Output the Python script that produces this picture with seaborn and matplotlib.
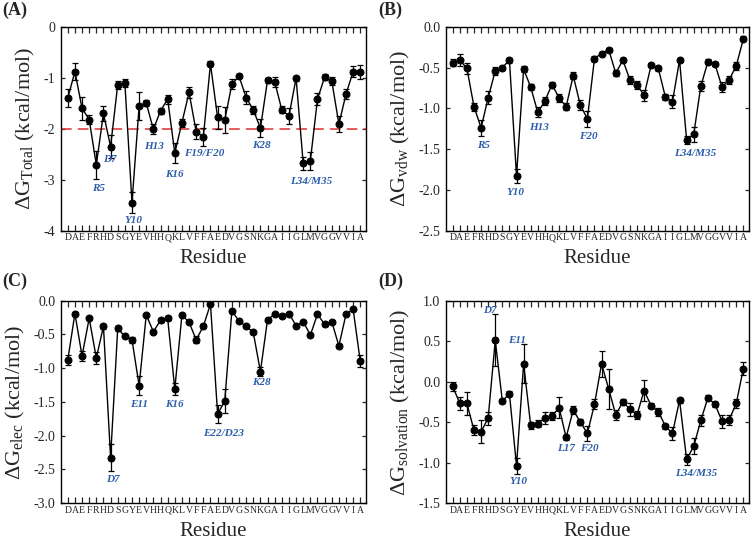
import numpy as np
import pandas as pd
import matplotlib
matplotlib.use("Agg")
import matplotlib.pyplot as plt
import seaborn as sns

sns.set_theme(style="ticks")
plt.rcParams['font.family'] = ['Liberation Serif', 'DejaVu Serif']
plt.rcParams['mathtext.fontset'] = 'custom'
plt.rcParams['mathtext.rm'] = 'Liberation Serif'
plt.rcParams['mathtext.it'] = 'Liberation Serif:italic'
plt.rcParams['axes.unicode_minus'] = False

residues = list("DAEFRHDSGYEVHHQKLVFFAEDVGSNKGAIIGLMVGGVVIA")

dg_total = [-1.40, -0.88, -1.60, -1.82, -2.71, -1.70, -2.35, -1.14, -1.10, -3.45,
            -1.56, -1.50, -2.01, -1.65, -1.42, -2.48, -1.88, -1.29, -2.06, -2.16,
            -0.73, -1.78, -1.83, -1.13, -0.97, -1.39, -1.63, -1.99, -1.05, -1.08,
            -1.63, -1.75, -1.01, -2.68, -2.63, -1.42, -0.99, -1.06, -1.91, -1.32,
            -0.88, -0.89]
err_total = [0.17, 0.16, 0.22, 0.09, 0.28, 0.14, 0.22, 0.08, 0.08, 0.21,
             0.27, 0.06, 0.10, 0.06, 0.09, 0.20, 0.08, 0.10, 0.15, 0.17,
             0.05, 0.23, 0.25, 0.10, 0.04, 0.12, 0.08, 0.18, 0.05, 0.10,
             0.07, 0.15, 0.05, 0.13, 0.18, 0.12, 0.06, 0.08, 0.15, 0.10,
             0.10, 0.14]

dg_vdw = [-0.44, -0.41, -0.51, -0.98, -1.24, -0.87, -0.54, -0.50, -0.41, -1.83,
          -0.52, -0.74, -1.05, -0.91, -0.71, -0.87, -0.98, -0.60, -0.96, -1.13,
          -0.39, -0.33, -0.28, -0.57, -0.41, -0.65, -0.71, -0.84, -0.47, -0.51,
          -0.86, -0.92, -0.41, -1.39, -1.32, -0.73, -0.43, -0.46, -0.74, -0.65,
          -0.48, -0.15]
err_vdw = [0.04, 0.07, 0.07, 0.05, 0.10, 0.08, 0.05, 0.02, 0.03, 0.09,
           0.04, 0.04, 0.06, 0.05, 0.03, 0.05, 0.04, 0.04, 0.06, 0.10,
           0.03, 0.02, 0.02, 0.04, 0.02, 0.05, 0.05, 0.07, 0.02, 0.03,
           0.04, 0.08, 0.02, 0.05, 0.09, 0.06, 0.03, 0.02, 0.06, 0.05,
           0.05, 0.03]

dg_elec = [-0.88, -0.19, -0.82, -0.26, -0.85, -0.38, -2.33, -0.41, -0.53, -0.58,
           -1.26, -0.21, -0.46, -0.29, -0.26, -1.31, -0.21, -0.32, -0.58, -0.38,
           -0.05, -1.68, -1.49, -0.15, -0.30, -0.38, -0.47, -1.05, -0.28, -0.20,
           -0.22, -0.19, -0.37, -0.31, -0.51, -0.20, -0.35, -0.31, -0.67, -0.20,
           -0.13, -0.90]
err_elec = [0.08, 0.02, 0.08, 0.02, 0.09, 0.04, 0.20, 0.04, 0.02, 0.04,
            0.14, 0.02, 0.02, 0.02, 0.03, 0.09, 0.02, 0.02, 0.05, 0.03,
            0.01, 0.14, 0.18, 0.01, 0.02, 0.01, 0.02, 0.06, 0.02, 0.01,
            0.02, 0.01, 0.02, 0.01, 0.02, 0.01, 0.02, 0.01, 0.03, 0.01,
            0.01, 0.09]

dg_solv = [-0.06, -0.27, -0.27, -0.60, -0.62, -0.45, 0.51, -0.24, -0.15, -1.04,
           0.22, -0.54, -0.52, -0.45, -0.43, -0.32, -0.69, -0.35, -0.50, -0.64,
           -0.28, 0.22, -0.09, -0.41, -0.25, -0.34, -0.41, -0.11, -0.30, -0.37,
           -0.55, -0.64, -0.23, -0.96, -0.80, -0.48, -0.20, -0.28, -0.49, -0.47,
           -0.27, 0.16]
err_solv = [0.05, 0.08, 0.14, 0.06, 0.14, 0.08, 0.32, 0.03, 0.03, 0.10,
            0.24, 0.04, 0.04, 0.07, 0.05, 0.13, 0.03, 0.05, 0.04, 0.09,
            0.06, 0.16, 0.25, 0.06, 0.03, 0.08, 0.05, 0.13, 0.03, 0.05,
            0.03, 0.08, 0.03, 0.07, 0.10, 0.07, 0.03, 0.03, 0.08, 0.06,
            0.05, 0.08]

ann_total = [("R5", 4.3, -3.17), ("D7", 5.9, -2.61), ("Y10", 9.2, -3.80), ("H13", 12.1, -2.35),
             ("K16", 14.9, -2.89), ("F19/F20", 19.1, -2.48), ("K28", 27.1, -2.33),
             ("L34/M35", 34.1, -3.04)]
ann_vdw = [("R5", 4.4, -1.46), ("Y10", 8.85, -2.03), ("H13", 12.2, -1.23),
           ("F20", 19.2, -1.35), ("L34/M35", 34.2, -1.56)]
ann_elec = [("D7", 6.3, -2.65), ("E11", 10.0, -1.54), ("K16", 14.9, -1.54),
            ("E22/D23", 21.9, -1.97), ("K28", 27.2, -1.22)]
ann_solv = [("D7", 5.3, 0.88), ("E11", 9.1, 0.51), ("Y10", 9.2, -1.24),
            ("L17", 16.0, -0.83), ("F20", 19.3, -0.83), ("L34/M35", 34.4, -1.14)]

panels = [
    ("(A)", dg_total, err_total, ann_total, (-4, 0), [0, -1, -2, -3, -4], "%d", "Total"),
    ("(B)", dg_vdw, err_vdw, ann_vdw, (-2.5, 0), [0.0, -0.5, -1.0, -1.5, -2.0, -2.5], "%.1f", "vdw"),
    ("(C)", dg_elec, err_elec, ann_elec, (-3.0, 0), [0.0, -0.5, -1.0, -1.5, -2.0, -2.5, -3.0], "%.1f", "elec"),
    ("(D)", dg_solv, err_solv, ann_solv, (-1.5, 1.0), [1.0, 0.5, 0.0, -0.5, -1.0, -1.5], "%.1f", "solvation"),
]

W, H = 753, 541
fig = plt.figure(figsize=(W / 100, H / 100), dpi=100)
rects = [
    (61, 26.7, 366, 230.7),
    (446, 26.7, 749, 230.7),
    (61, 300.7, 366, 503),
    (446, 300.7, 749, 503),
]
label_pos = [(2, 2), (378, 2), (2, 273), (378, 273)]
blue = "#2b5cab"
idx = np.arange(len(residues))

for (lab, vals, errs, anns, ylim, yt, fmt, sub), (l, t, r, b), (lx, ly) in zip(panels, rects, label_pos):
    ax = fig.add_axes([l / W, 1 - b / H, (r - l) / W, (b - t) / H])
    df = pd.DataFrame({"i": idx, "v": vals})
    ax.errorbar(idx, vals, yerr=errs, fmt="none", ecolor="black", elinewidth=0.9,
                capsize=2.5, capthick=0.9, zorder=2)
    sns.lineplot(data=df, x="i", y="v", ax=ax, color="black", linewidth=1.0,
                 marker="o", markersize=5, markeredgecolor="black", zorder=3)
    if lab == "(A)":
        ax.axhline(-2, color="#e03030", linestyle=(0, (7, 4)), linewidth=1.1, zorder=1)
    ax.set_xlim(-0.95, 41.8)
    ax.set_ylim(*ylim)
    ax.set_xticks(idx)
    ax.set_xticklabels(residues, fontsize=7)
    ax.set_yticks(yt)
    ax.set_yticklabels([fmt % v for v in yt], fontsize=10)
    ax.tick_params(axis="x", direction="in", top=True, bottom=True, length=4, width=0.9, pad=2)
    ax.tick_params(axis="y", direction="in", left=True, right=True, length=3, width=0.9, pad=4)
    for s in ax.spines.values():
        s.set_linewidth(1.0)
        s.set_color("black")
    ax.set_xlabel("Residue", fontsize=15, labelpad=5)
    ax.set_ylabel(r"$\Delta$G$_{\mathrm{%s}}$ (kcal/mol)" % sub, fontsize=16, labelpad=5)
    for txt, x, y in anns:
        ax.text(x, y, txt, color=blue, fontsize=8, fontweight="bold", fontstyle="italic",
                ha="center", va="center")
    fig.text(lx / W, 1 - ly / H, lab, fontsize=13, fontweight="bold", ha="left", va="top")

fig.savefig("out.png", dpi=100)
